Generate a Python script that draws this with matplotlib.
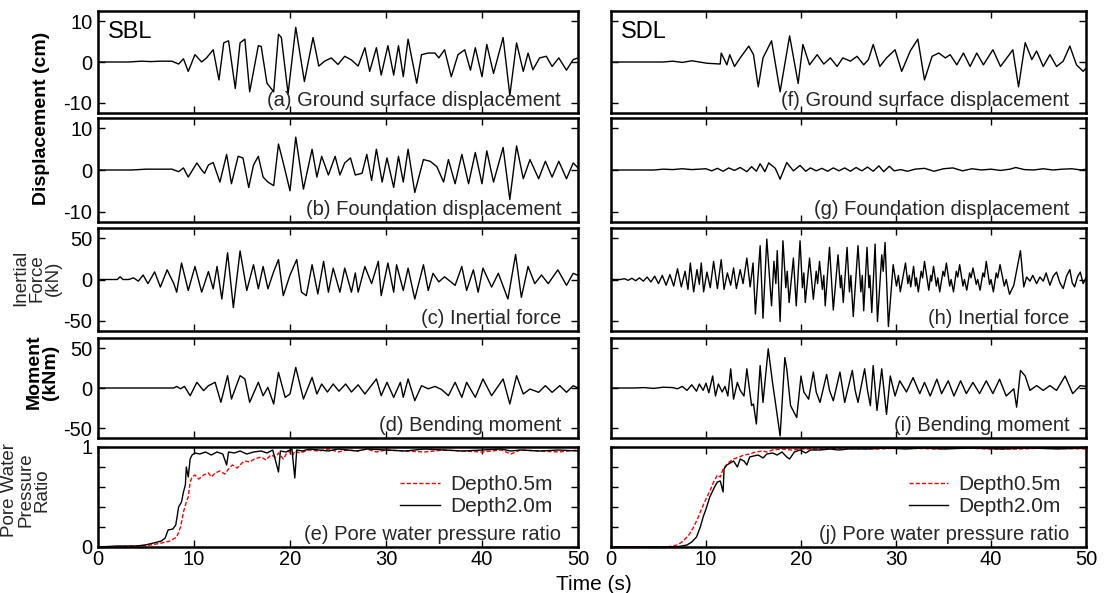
import matplotlib
matplotlib.use("Agg")
import matplotlib.pyplot as plt
from matplotlib.ticker import FixedLocator, NullFormatter

plt.rcParams['font.family'] = ['Liberation Sans', 'DejaVu Sans']
plt.rcParams['axes.unicode_minus'] = False

# ---------------- DATA ----------------
# (a) SBL ground surface displacement (cm)
a_t = [0, 3.2, 4.5, 5.5, 6.5, 7.7, 8.4, 8.9, 9.4, 10.1, 10.8, 11.3, 12.0, 12.6, 13.1, 13.6, 14.3, 14.8, 15.3,
       15.8, 16.7, 17.0, 17.6, 18.3, 18.8, 19.1, 19.8, 20.6, 21.5, 22.4, 23.0, 23.6, 24.3, 25.0, 25.7, 26.4,
       27.1, 27.8, 28.3, 29.0, 29.5, 30.2, 30.8, 31.3, 31.8, 32.3, 33.2, 33.7, 34.4, 35.1, 35.5, 36.1, 36.8,
       37.5, 38.2, 38.8, 39.3, 40.0, 40.5, 41.2, 42.2, 42.9, 43.6, 44.3, 44.8, 45.3, 46.0, 46.7, 47.3, 48.0,
       48.8, 49.5, 50]
a_v = [0, 0, 0.2, 0.1, 0.2, 0.2, -0.5, 0.8, -2.3, 1.8, 0, 1.0, 3.0, -4.4, 4.7, 5.2, -6.5, 4.7, 5.6,
       -7.3, 4.0, 3.8, -5.2, -7.3, 6.8, 6.0, -7.8, 8.5, -4.8, 6.0, -1.0, 0.2, 1.0, -0.6, 1.4, 0.5,
       -1.0, 3.5, -2.3, 3.5, -3.2, 4.0, -3.2, 4.0, -3.6, 5.6, -5.2, 1.8, 2.2, 2.2, 1.0, 3.0, -3.6,
       1.8, 3.0, -2.0, 3.5, -3.6, 4.3, -2.8, 6.0, -8.2, 4.7, -2.3, 2.2, -1.9, 1.0, 1.4, -1.1, 1.0,
       -2.0, 0.6, 1.0]

# (b) SBL foundation displacement (cm)
b_t = [0, 3.5, 5.0, 6.5, 7.7, 8.4, 8.9, 9.4, 10.3, 10.8, 11.1, 11.5, 12.0, 12.7, 13.4, 13.9, 14.6, 15.1, 15.7,
       16.2, 16.7, 17.2, 17.7, 18.3, 18.8, 19.3, 20.0, 20.6, 21.4, 22.3, 22.8, 23.3, 24.0, 24.7, 25.2, 25.7,
       26.3, 26.8, 27.5, 28.0, 28.5, 29.0, 29.6, 30.1, 30.8, 31.3, 31.8, 32.3, 33.0, 33.9, 34.6, 35.3, 36.0,
       36.5, 37.2, 37.9, 38.6, 39.3, 40.0, 40.5, 41.2, 42.2, 42.9, 43.6, 44.3, 45.0, 45.9, 46.6, 47.3, 48.0,
       48.8, 49.5, 50]
b_v = [0, 0, 0.2, 0.2, 0.2, -0.4, 0.5, -1.7, 1.7, 0, -0.8, 1.2, 1.8, -2.9, 3.75, -3.3, 3.3, 2.9, -4.2,
       1.2, 3.3, -1.7, -2.9, -3.75, 6.25, 1.7, -5.0, 7.9, -4.6, 5.0, -1.7, 3.3, -1.2, 3.3, -1.2, 1.7,
       2.9, -1.2, -0.8, 3.75, -2.5, 5.0, -2.9, 2.9, -4.2, 3.3, -2.9, 5.0, -5.4, 2.5, 2.1, 0.8, -2.9,
       2.5, -3.3, 3.75, -3.3, 4.2, -3.3, 4.6, -2.9, 5.4, -7.1, 5.8, -2.1, 2.5, -2.1, 2.1, -1.7, 2.1,
       -2.1, 1.7, 0.5]

# (c) SBL inertial force (kN)
c_t = [0, 2.0, 2.3, 2.6, 3.2, 3.7, 4.2, 4.7, 5.2, 5.9, 6.5, 7.2, 7.9, 8.2, 8.7, 9.4, 10.1, 10.8, 11.5, 12.0,
       12.4, 12.9, 13.5, 14.1, 14.8, 15.5, 16.2, 16.7, 17.2, 17.7, 18.3, 18.8, 19.3, 20.0, 20.7, 21.2, 21.7,
       22.3, 22.9, 23.5, 24.0, 24.5, 25.2, 25.7, 26.4, 26.8, 27.1, 27.8, 28.5, 29.2, 29.5, 30.2, 30.8, 31.1,
       31.8, 32.3, 33.0, 33.9, 34.4, 34.9, 35.5, 36.1, 37.2, 37.9, 38.4, 39.1, 39.6, 40.1, 41.0, 41.7, 42.7,
       43.5, 44.1, 44.8, 45.5, 46.2, 46.9, 47.9, 48.8, 49.5, 50]
c_v = [0, 0, 3.3, 0, 0, 2, -2, 5.4, -5, 9.2, -9.2, 11.7, -5, -15.4, 20, -13.3, 15.8, -15.4, 9.6, -11.3,
       15.8, -23.7, 32.5, -34, 34.6, -13.3, 17.9, -11.3, 15.8, -11.3, 9.6, 24.2, -19.6, 5.4, 24.2, -15.4, -19.6,
       17.9, -17.5, 22, -15.4, 13.8, -15.4, 13.8, -15.4, 8, -15.4, 15.8, -5, 22, -19.6, 20, -15.4, 17.9,
       -13.3, 13.8, -23.7, 17.9, -13.3, 7.5, -2.9, 3.3, -7.1, 15.8, -13.3, 11.7, -15.4, 13.8, -9.2, 7.5, -23.7,
       30.4, -21.7, 15.8, -5, 5.4, -5, 11.7, -7.1, 7.5, 5]

# (d) SBL bending moment (kNm)
d_t = [0, 7.9, 8.2, 8.6, 9.0, 9.6, 10.3, 11.0, 11.5, 12.2, 12.8, 13.5, 13.9, 14.8, 15.3, 15.8, 16.7, 17.2,
       17.7, 18.3, 18.8, 19.5, 20.0, 20.6, 21.4, 22.3, 22.8, 23.3, 23.9, 24.5, 25.1, 25.8, 26.4, 27.1, 27.8,
       29.0, 29.5, 30.1, 30.8, 31.5, 31.8, 32.3, 33.0, 33.7, 34.4, 35.1, 35.8, 36.5, 37.2, 37.9, 38.4, 39.3,
       40.1, 41.0, 42.2, 42.9, 43.6, 44.3, 45.0, 45.9, 46.6, 47.3, 48.1, 48.8, 49.5, 50]
d_v = [0, 0, 2, -1, 2, -9.6, 7.1, -3.3, 2.9, 7.1, -17.9, 15.4, -13.8, 15.4, 11.3, -17.9, 7.1, -9.6,
       0.8, -20, 19.6, -11.7, -7.5, 25.8, -13.8, 13.3, -7.5, 5, -5, 5, -4, 5, -5, 4, -7.5,
       11.3, -9.6, 7.1, -11.7, 7.1, -11.7, 11.3, -15.8, 2.9, -1, 2, -2, -9.6, 7.1, -11.7, 7.1, -11.7,
       11.3, -9.6, 11.3, -20, 15.4, -7.5, -1.3, -5.4, 2.9, -5.4, 2.9, -5.4, 2.9, 0]

# (e) SBL pore water pressure ratio
e_t_20 = [0, 2, 4, 4.9, 5.8, 6.6, 7.0, 7.3, 7.8, 8.1, 8.4, 8.7, 8.9, 9.1, 9.2, 9.4, 9.6, 9.8, 10.1, 10.6,
          11.2, 11.8, 12.4, 13.0, 13.4, 13.6, 14.2, 14.8, 15.5, 16.2, 17.0, 17.6, 18.2, 18.8, 19.0, 19.6,
          20.2, 20.5, 20.7, 21.3, 22, 23, 24, 25, 26, 27, 28, 30, 32, 34, 36, 38, 40, 42, 43, 44, 46, 48, 50]
e_v_20 = [0, 0.01, 0.01, 0.02, 0.04, 0.06, 0.09, 0.17, 0.18, 0.22, 0.4, 0.45, 0.55, 0.62, 0.8, 0.7, 0.88,
          0.92, 0.94, 0.93, 0.95, 0.92, 0.95, 0.93, 0.82, 0.95, 0.94, 0.96, 0.93, 0.95, 0.96, 0.94, 0.97,
          0.75, 0.96, 0.95, 0.98, 0.69, 0.97, 0.96, 0.98, 0.97, 0.96, 0.98, 0.97, 0.96, 0.98, 0.97, 0.96,
          0.98, 0.97, 0.96, 0.97, 0.98, 0.96, 0.97, 0.96, 0.97, 0.96]
e_t_05 = [0, 2, 4, 5.5, 6.6, 7.5, 8.2, 8.6, 8.9, 9.2, 9.4, 9.6, 9.8, 10.1, 10.5, 11.0, 11.5, 11.8, 12.2,
          12.7, 13.2, 13.6, 14.0, 14.5, 15.0, 15.3, 15.8, 16.3, 17.0, 17.5, 18.0, 18.5, 18.8, 19.3, 19.8,
          20.3, 20.5, 21.0, 22, 23, 24, 25, 26, 27, 28, 29, 30, 32, 34, 36, 38, 40, 42, 43, 44, 46, 48, 50]
e_v_05 = [0, 0.0, 0.01, 0.02, 0.04, 0.06, 0.1, 0.2, 0.35, 0.45, 0.5, 0.65, 0.7, 0.72, 0.68, 0.72, 0.74,
          0.70, 0.74, 0.76, 0.73, 0.78, 0.82, 0.79, 0.84, 0.86, 0.85, 0.88, 0.9, 0.87, 0.92, 0.9, 0.94,
          0.88, 0.96, 0.92, 0.96, 0.94, 0.97, 0.96, 0.98, 0.95, 0.97, 0.96, 0.98, 0.95, 0.97, 0.96, 0.95,
          0.97, 0.96, 0.95, 0.97, 0.93, 0.97, 0.96, 0.95, 0.97]

# (f) SDL ground surface displacement (cm)
f_t = [0, 5.5, 6.5, 7.5, 8.5, 10.1, 11.5, 11.6, 12.2, 12.5, 13.0, 13.6, 14.5, 15.0, 15.5, 16.0, 16.9, 17.8,
       18.8, 19.7, 20.2, 20.9, 21.7, 22.4, 23.1, 23.8, 24.4, 25.2, 25.9, 26.6, 27.1, 27.6, 28.3, 29.0, 29.9,
       30.6, 31.5, 32.3, 33.0, 33.8, 34.5, 35.2, 35.7, 36.4, 37.1, 37.8, 38.5, 39.2, 40.2, 41.0, 42.3, 42.9,
       43.6, 44.3, 44.8, 45.5, 46.2, 46.9, 47.6, 48.3, 49.0, 49.7, 50]
f_v = [0, 0, 0.2, -0.1, 0.3, -0.3, -0.5, 2.2, -0.7, 1.8, -1.1, 1.0, 3.9, 1.8, -6.1, 1.0, 5.2, -7.3,
       6.4, -5.25, 4.3, -0.7, 1.8, -0.5, 1.0, -1.1, 1.0, 0.2, 1.4, -0.7, 0.6, 4.3, -1.1, 1.0, 3.0,
       -2.3, 2.7, 5.6, -4.4, 1.4, 2.2, 1.0, 1.8, -0.7, 2.2, -1.1, 2.2, -0.7, 3.0, -1.1, 3.0, -6.1,
       4.75, 0.6, 2.7, -1.1, 1.8, -1.1, 0.2, 3.9, -0.7, -2.3, -1.5]

# (g) SDL foundation displacement (cm)
g_t = [0, 4.5, 5.5, 6.5, 7.5, 8.5, 10.0, 10.6, 11.2, 11.8, 12.4, 13.0, 13.6, 14.3, 14.8, 15.3, 15.7, 16.2,
       16.6, 17.3, 17.8, 18.5, 19.2, 19.9, 20.5, 21.0, 21.6, 22.2, 22.8, 23.4, 24.0, 24.6, 25.2, 25.8, 26.4,
       27.0, 27.6, 28.2, 28.7, 29.3, 29.8, 30.5, 31.2, 32.0, 33.0, 34.0, 35.0, 36.0, 37.0, 38.0, 39.0, 40.0,
       41.0, 42.0, 42.6, 43.5, 44.5, 45.5, 46.5, 47.5, 48.5, 49.5, 50]
g_v = [0, 0, 0.2, 0.1, 0.3, 0.1, 0.3, -0.2, 0.4, -0.3, 0.5, -0.1, 0.6, -0.4, 0.8, -0.3, 1.5, -0.4,
       1.7, 0.4, -2.2, 1.8, -0.2, 1.1, -0.3, 0.5, -0.2, 0.4, -0.3, 0.5, -0.2, 0.5, -0.3, 0.6, -0.2,
       0.7, -0.3, 1.0, -0.4, 0.9, -0.2, 0.1, -0.3, 0.2, 0.4, -0.3, 0.3, 0.5, -0.2, 0.3, 0.0, 0.2,
       -0.1, 0.2, 0.6, 0.1, 0.0, 0.3, 0.0, 0.2, 0.3, 0.0, 0.2]

# (h) SDL inertial force (kN)
h_t = [0, 1.0, 1.4, 1.8, 2.2, 2.6, 3.0, 3.4, 3.8, 4.2, 4.6, 5.0, 5.4, 5.8, 6.2, 6.6, 7.0, 7.4, 7.8, 8.1,
       8.35, 8.7, 9.05, 9.3, 9.5, 9.75, 10.1, 10.45, 10.8, 11.2, 11.6, 11.9, 12.25, 12.6, 12.9, 13.2, 13.6,
       13.9, 14.3, 14.65, 14.95, 15.2, 15.7, 16.0, 16.4, 16.9, 17.15, 17.35, 17.5, 17.8, 18.1, 18.4, 18.55,
       18.75, 19.2, 19.5, 19.9, 20.15, 20.3, 20.45, 20.9, 21.3, 21.6, 21.75, 21.95, 22.25, 22.4, 22.55, 23.0,
       23.4, 23.9, 24.15, 24.25, 24.45, 24.85, 25.1, 25.25, 25.5, 26.0, 26.3, 26.45, 26.6, 26.95, 27.15,
       27.25, 27.45, 27.8, 28.05, 28.5, 28.65, 28.85, 29.2, 29.7, 30.05, 30.25, 30.45, 31.0, 31.25, 31.4,
       31.55, 31.85, 32.05, 32.15, 32.35, 32.65, 32.8, 33.0, 33.45, 33.65, 33.75, 33.95, 34.25, 34.4, 34.6,
       34.95, 35.1, 35.3, 35.65, 35.8, 36.05, 36.35, 36.5, 36.7, 37.05, 37.2, 37.45, 37.75, 37.9, 38.1,
       38.45, 38.6, 38.85, 39.15, 39.3, 39.5, 39.85, 40.0, 40.25, 40.55, 40.7, 40.95, 41.4, 41.6, 41.95,
       42.4, 43.1, 43.45, 43.75, 44.1, 44.4, 44.8, 45.15, 45.5, 45.8, 46.2, 46.55, 46.9, 47.25, 47.6,
       47.95, 48.3, 48.55, 48.8, 49.1, 49.4, 49.7, 50]
h_v = [0, 0, 1, -1, 1.5, -1.5, 2, -2, 3, -3, 4, -5, 5, -7, 6, -8, 13, -9, 10, -12,
       20, -15, 12, -6, 20, -15, 9, -10, 22, -11, 24, -12, 8, -7, 14, -11, 12,
       -5, 26, -9, 20, -42, 41, -47, 49, -32, 22, -5, 35, -51, 47, -10, 10,
       -28, 26, -32, 47, -10, 8, -28, 26, -24, 10, -5, 22, -12, 5, -32, 39,
       -37, 30, -10, 5, -28, 39, -15, 5, -45, 41, -15, 5, -38, 39, -10,
       5, -40, 43, -51, 30, 10, 45, -57, 18, -8, 5, -15, 20, -5, 5,
       -9, 16, -8, 2, -15, 10, 2, 22, -13, 5, -2, 16, -8, 2, -15,
       10, 4, 20, -8, 0, -15, 10, 3, 18, -8, 0, -13, 8, 2, 14,
       -6, 0, -13, 8, 3, 22, -6, 0, -15, 8, 2, 18, -8, 0, -18,
       -7, 35, -9, 3, -2, 5, -5, 3, -2, 8, -7, 4, 9, -4, -11,
       4, 12, -4, -9, 3, 9, -5, 2]

# (i) SDL bending moment (kNm)
i_t = [0, 2.4, 3.5, 4.5, 5.5, 6.5, 7.0, 7.5, 8.0, 8.5, 9.0, 9.3, 9.7, 10.0, 10.3, 10.7, 11.0, 11.3, 11.7,
       12.0, 12.3, 12.6, 12.9, 13.3, 13.6, 14.0, 14.3, 14.8, 15.0, 15.3, 15.7, 16.0, 16.55, 17.0, 17.4, 17.8,
       18.3, 18.5, 18.9, 19.55, 20.0, 20.3, 20.8, 21.3, 21.6, 22.0, 22.7, 23.0, 23.4, 24.1, 24.4, 24.6, 25.4,
       25.7, 26.0, 26.7, 27.0, 27.3, 27.6, 28.0, 28.5, 29.0, 29.4, 29.9, 30.4, 31.1, 31.8, 32.5, 33.0, 33.6,
       34.3, 34.8, 35.5, 36.1, 36.8, 37.4, 38.1, 38.8, 39.5, 40.2, 40.9, 41.6, 42.4, 42.7, 43.1, 43.6, 44.1,
       44.8, 45.5, 46.2, 46.9, 47.8, 48.6, 49.4, 50]
i_v = [0, 0, 0.5, -0.5, 1, 0.5, -1, 2, -3, 4, -4, 5, -3, 6, -6, 15, -10, 5, -5,
       2, -10, 24, -14, 7, -3, -10, 24, -22, -20, -45, 28, -18, 49, 7, -26, -60,
       38, 24, -22, -37, 15, -5, -14, 20, -5, -18, 17, -3, -16, 20, -3, -18, 22,
       -3, -18, 24, -3, -22, 28, -28, 24, -33, 15, -10, 9, -5, 13, -7, 7, -10,
       11, -7, 9, -10, 9, -7, 7, -7, 9, -7, 11, -10, -1, -24, 22, 15, -3,
       3, -3, 3, -3, 15, -7, 3, 2]

# (j) SDL pore water pressure ratio
j_t_20 = [0, 6.9, 8.0, 8.5, 9.0, 9.4, 9.7, 10.0, 10.4, 10.9, 11.2, 11.5, 11.8, 11.9, 12.2, 12.9, 13.3, 13.6,
          14.0, 14.3, 14.6, 15.0, 15.5, 16.0, 16.4, 17.0, 17.5, 18.0, 18.5, 18.8, 19.3, 19.9, 20.5, 21.0,
          22, 23, 24, 25, 27, 29, 31, 33, 35, 38, 41, 44, 47, 50]
j_v_20 = [0, 0, 0.02, 0.05, 0.1, 0.2, 0.3, 0.38, 0.5, 0.6, 0.65, 0.66, 0.55, 0.78, 0.82, 0.86, 0.8, 0.88,
          0.86, 0.82, 0.9, 0.91, 0.92, 0.89, 0.93, 0.94, 0.92, 0.95, 0.9, 0.88, 0.95, 0.97, 0.94, 0.97,
          0.97, 0.98, 0.97, 0.98, 0.98, 0.99, 0.98, 0.99, 0.98, 0.99, 0.98, 0.99, 0.98, 0.99]
j_t_05 = [0, 5.9, 7.0, 7.6, 8.2, 8.7, 9.1, 9.4, 9.8, 10.1, 10.5, 10.8, 11.2, 11.5, 11.8, 12.3, 12.9, 13.5,
          14.0, 14.6, 15.2, 16.0, 16.4, 17.0, 18.0, 19.0, 20, 22, 25, 28, 31, 34, 37, 40, 43, 46, 50]
j_v_05 = [0, 0, 0.02, 0.06, 0.12, 0.2, 0.28, 0.35, 0.44, 0.5, 0.58, 0.65, 0.72, 0.7, 0.78, 0.84, 0.88,
          0.9, 0.92, 0.93, 0.95, 0.96, 0.95, 0.97, 0.98, 0.97, 0.98, 0.98, 0.99, 0.98, 0.99, 0.98, 0.99,
          0.98, 0.98, 0.99, 0.98]

panel_labels_left = ['(a) Ground surface displacement', '(b) Foundation displacement',
                     '(c) Inertial force', '(d) Bending moment', '(e) Pore water pressure ratio']
panel_labels_right = ['(f) Ground surface displacement', '(g) Foundation displacement',
                      '(h) Inertial force', '(i) Bending moment', '(j) Pore water pressure ratio']
legend_labels = ['Depth0.5m', 'Depth2.0m']
x_ticks = [0, 10, 20, 30, 40, 50]

# ---------------- LAYOUT ----------------
W, H = 1106, 593
fig = plt.figure(figsize=(W / 100, H / 100), dpi=100)
cols = [(98, 578), (611, 1086)]
rows = [(11, 113), (118, 222), (228, 331), (338, 438), (447, 547)]


def make_ax(c, r):
    x0, x1 = cols[c]
    y0, y1 = rows[r]
    return fig.add_axes([x0 / W, 1 - y1 / H, (x1 - x0) / W, (y1 - y0) / H])


TXT = '#262626'


def style(ax, ylim, yticks, show_ylabels, show_xlabels):
    ax.set_xlim(0, 50)
    ax.set_ylim(*ylim)
    ax.xaxis.set_major_locator(FixedLocator(x_ticks))
    ax.yaxis.set_major_locator(FixedLocator(yticks))
    ax.tick_params(direction='in', top=True, right=True, length=5, width=1.0,
                   labelsize=14.5, pad=4, colors='black')
    ax.tick_params(axis='x', pad=2)
    for s in ax.spines.values():
        s.set_linewidth(1.8)
    if not show_xlabels:
        ax.xaxis.set_major_formatter(NullFormatter())
    if not show_ylabels:
        ax.yaxis.set_major_formatter(NullFormatter())


def label(ax, txt, y=0.07):
    ax.text(0.965, y, txt, transform=ax.transAxes, ha='right', va='baseline',
            fontsize=14.5, color=TXT)


disp_lim = (-12.5, 12.5)
force_lim = (-62.5, 62.5)
series = [
    [(a_t, a_v), (b_t, b_v), (c_t, c_v), (d_t, d_v)],
    [(f_t, f_v), (g_t, g_v), (h_t, h_v), (i_t, i_v)],
]
lims = [disp_lim, disp_lim, force_lim, force_lim]
ticks = [[-10, 0, 10], [-10, 0, 10], [-50, 0, 50], [-50, 0, 50]]
labels = [panel_labels_left, panel_labels_right]

for c in range(2):
    for r in range(4):
        ax = make_ax(c, r)
        t, v = series[c][r]
        ax.plot(t, v, color='black', lw=1.0)
        style(ax, lims[r], ticks[r], c == 0, False)
        label(ax, labels[c][r])
        if r == 0:
            ax.text(0.02, 0.9, 'SBL' if c == 0 else 'SDL', transform=ax.transAxes,
                    ha='left', va='top', fontsize=17, color='black')

    ax = make_ax(c, 4)
    if c == 0:
        t05, v05, t20, v20 = e_t_05, e_v_05, e_t_20, e_v_20
    else:
        t05, v05, t20, v20 = j_t_05, j_v_05, j_t_20, j_v_20
    ax.plot(t05, v05, color='red', lw=1.0, ls=(0, (3, 1.5)), label=legend_labels[0])
    ax.plot(t20, v20, color='black', lw=1.0, label=legend_labels[1])
    style(ax, (0, 1), [0, 0.2, 0.4, 0.6, 0.8, 1.0], c == 0, True)
    if c == 0:
        ax.yaxis.set_major_formatter(plt.FuncFormatter(
            lambda val, pos: '1' if abs(val - 1) < 1e-6 else ('0' if abs(val) < 1e-6 else '')))
    label(ax, labels[c][4])
    ax.legend(loc='upper right', bbox_to_anchor=(0.965, 0.8), frameon=False, fontsize=15,
              handlelength=1.9, handletextpad=0.5, labelspacing=0.15, borderaxespad=0,
              labelcolor=TXT)

# ---------------- AXIS TITLES ----------------
fig.text(42 / W, 1 - 118 / H, 'Displacement (cm)', rotation=90, ha='center', va='center',
         fontsize=14, fontweight='bold')
fig.text(37 / W, 1 - 278 / H, 'Inertial\nForce\n(kN)', rotation=90, ha='center', va='center',
         fontsize=13.5, linespacing=0.95, color=TXT)
fig.text(42 / W, 1 - 372 / H, 'Moment\n(kNm)', rotation=90, ha='center', va='center',
         fontsize=14, fontweight='bold', linespacing=0.95)
fig.text(26 / W, 1 - 490 / H, 'Pore Water\nPressure\nRatio', rotation=90, ha='center', va='center',
         fontsize=13.5, linespacing=0.95, color=TXT)
fig.text(594 / W, 1 - 584 / H, 'Time (s)', ha='center', va='center', fontsize=15)

fig.savefig('out.png', dpi=100)
